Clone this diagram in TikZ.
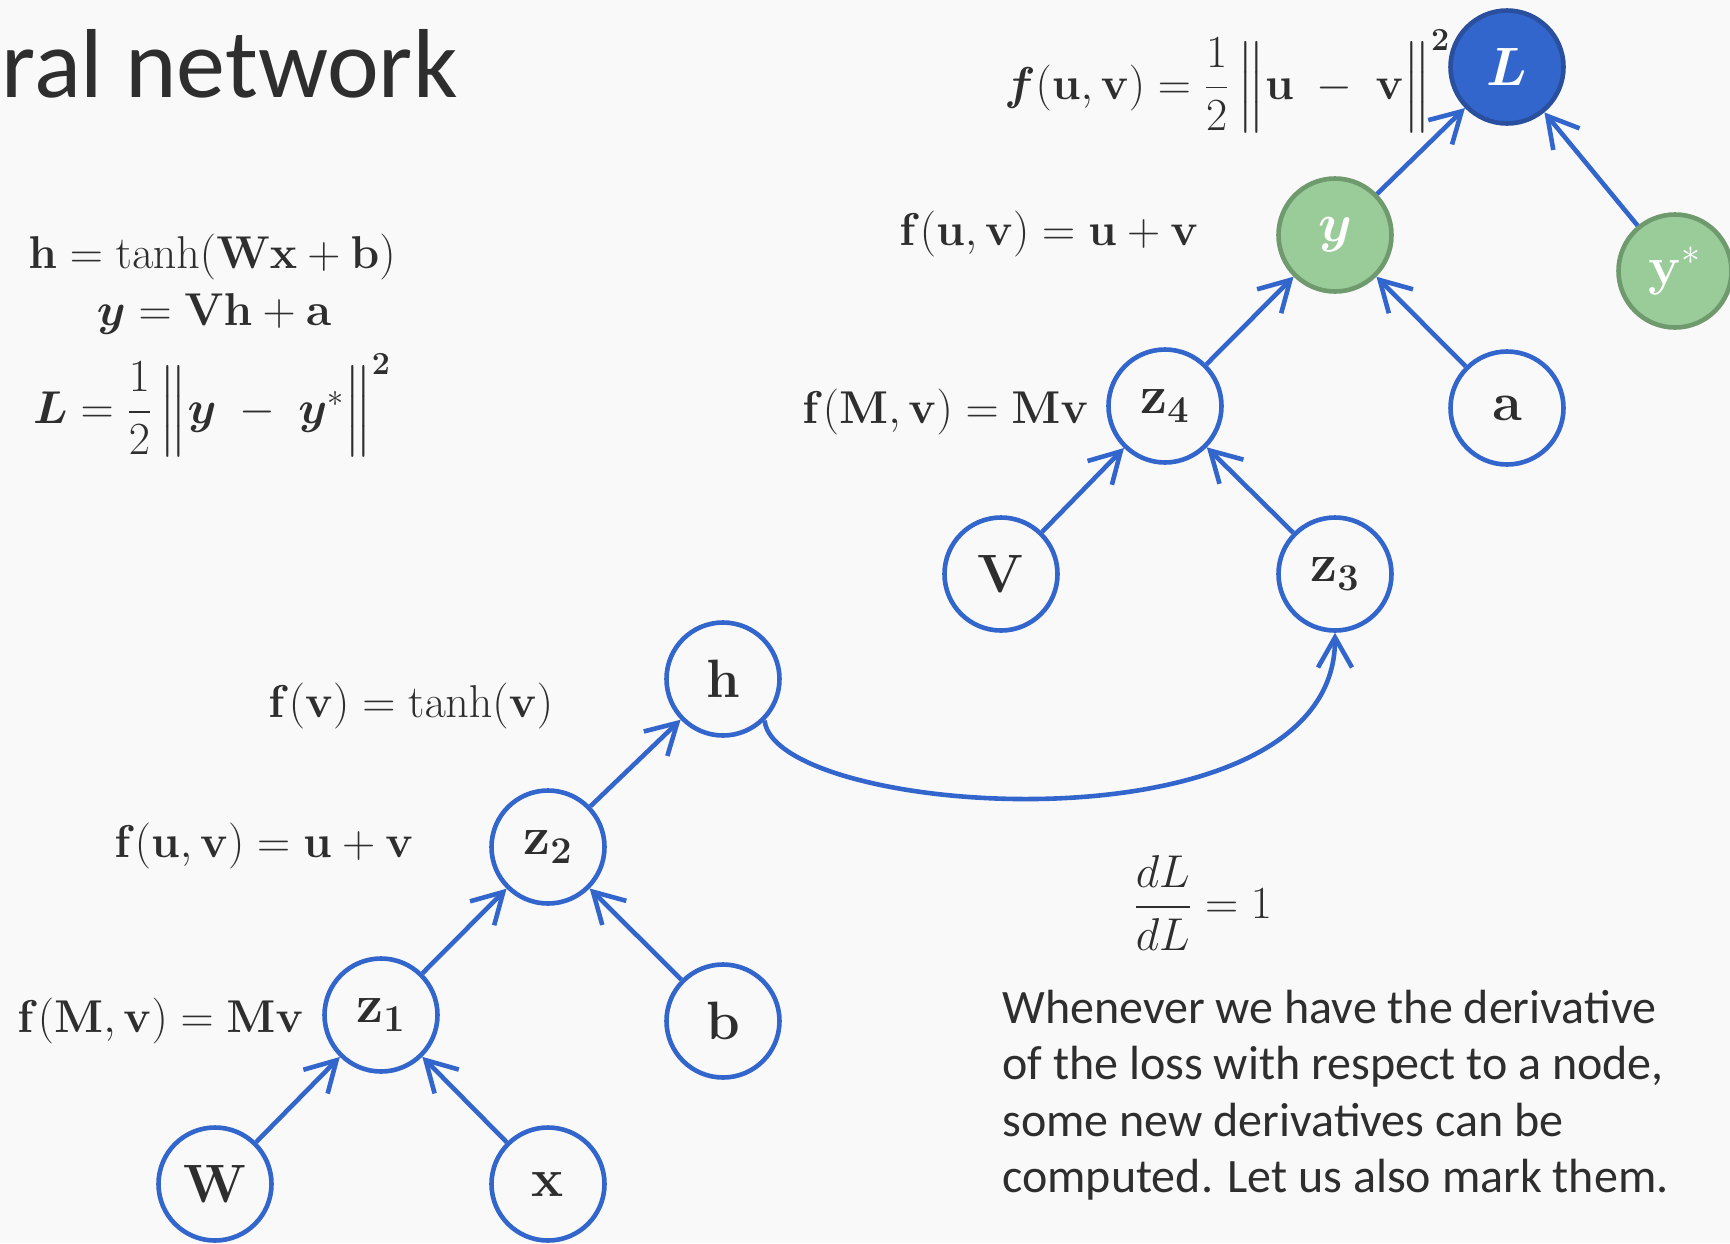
\RequirePackage{fix-cm}
\documentclass[tikz,border=0pt]{standalone}
\usepackage{amsmath,bm}
\usepackage[no-math]{fontspec}
\newfontfamily\calibrifont{Carlito}
\usetikzlibrary{arrows.meta}
\definecolor{bg}{HTML}{F9F9F9}
\definecolor{ink}{HTML}{2E2E2E}
\definecolor{edgeblue}{HTML}{3366CC}
\definecolor{lfill}{HTML}{3366CC}
\definecolor{ldraw}{HTML}{2A4F9E}
\definecolor{gfill}{HTML}{99CC99}
\definecolor{gdraw}{HTML}{6E9A6E}
\begin{document}
\begin{tikzpicture}[x=0.5pt,y=-0.5pt,
  vnode/.style={circle, draw=edgeblue, line width=2.3pt, minimum size=56.5pt, inner sep=0pt, text=ink, font=\fontsize{27}{32}\selectfont},
  lossnode/.style={vnode, fill=lfill, draw=ldraw, text=white},
  greennode/.style={vnode, fill=gfill, draw=gdraw, text=white},
  edge/.style={draw=edgeblue, line width=2.3pt, -{Straight Barb[length=15pt,width=17pt]}},
  lbl/.style={text=ink, inner sep=0pt, font=\fontsize{23}{28}\selectfont},
  para/.style={text=ink, inner sep=0pt, anchor=base west, font=\calibrifont\fontsize{24}{29}\selectfont}
]
\fill[bg] (0,0) rectangle (1730,1243);
\useasboundingbox (0,0) rectangle (1730,1243);

% title
\node[anchor=base east, inner sep=0pt, text=ink, font=\calibrifont\fontsize{49}{58}\selectfont] (title) at (458,97) {ral network};

% left equations
\node[lbl, anchor=base] (e1) at (212,268) {$\mathbf{h} = \tanh(\mathbf{Wx}+\mathbf{b})$};
\node[lbl, anchor=base] (e2) at (214,325) {$\boldsymbol{y} = \mathbf{Vh}+\mathbf{a}$};
\node[lbl, anchor=base] (e3) at (212,423) {$\boldsymbol{L} = \dfrac{1}{2}\left\|\vphantom{\dfrac12}\boldsymbol{y} \;-\; \boldsymbol{y}^{*}\right\|^{\mathbf{2}}$};

% nodes
\node[lossnode] (L) at (1507,67) {$\boldsymbol{L}$};
\node[greennode] (y) at (1335,235) {$\boldsymbol{y}$};
\node[greennode] (ys) at (1675,271) {$\mathbf{y}^{*}$};
\node[vnode] (z4) at (1165,406) {$\mathbf{z}_{\mathbf{4}}$};
\node[vnode] (a) at (1507,408) {$\mathbf{a}$};
\node[vnode] (V) at (1001,574) {$\mathbf{V}$};
\node[vnode] (z3) at (1335,574) {$\mathbf{z}_{\mathbf{3}}$};
\node[vnode] (h) at (723,679) {$\mathbf{h}$};
\node[vnode] (z2) at (548,847) {$\mathbf{z}_{\mathbf{2}}$};
\node[vnode] (b) at (723,1021) {$\mathbf{b}$};
\node[vnode] (z1) at (381,1015) {$\mathbf{z}_{\mathbf{1}}$};
\node[vnode] (W) at (215,1184) {$\mathbf{W}$};
\node[vnode] (x) at (548,1184) {$\mathbf{x}$};

% function labels
\node[lbl, anchor=base west] (fL) at (1004,99) {$\boldsymbol{f}(\mathbf{u},\mathbf{v}) = \dfrac{1}{2}\left\|\vphantom{\dfrac12}\mathbf{u} \;-\; \mathbf{v}\right\|^{\mathbf{2}}$};
\node[lbl, anchor=base west] (fy) at (899,245) {$\mathbf{f}(\mathbf{u},\mathbf{v}) = \mathbf{u}+\mathbf{v}$};
\node[lbl, anchor=base west] (fz4) at (802,423) {$\mathbf{f}(\mathbf{M},\mathbf{v}) = \mathbf{Mv}$};
\node[lbl, anchor=base west] (fh) at (268,717) {$\mathbf{f}(\mathbf{v}) = \tanh(\mathbf{v})$};
\node[lbl, anchor=base west] (fz2) at (114,857) {$\mathbf{f}(\mathbf{u},\mathbf{v}) = \mathbf{u}+\mathbf{v}$};
\node[lbl, anchor=base west] (fz1) at (17,1032) {$\mathbf{f}(\mathbf{M},\mathbf{v}) = \mathbf{Mv}$};

% derivative
\node[lbl, anchor=west] (d) at (1133,903) {$\dfrac{dL}{dL} = 1$};

% paragraph
\node[para] (p1) at (1002,1023) {Whenever we have the derivative};
\node[para] (p2) at (1002,1079) {of the loss with respect to a node,};
\node[para] (p3) at (1002,1136) {some new derivatives can be};
\node[para] (p4) at (1002,1192) {computed. Let us also mark them.};

% edges
\draw[edge] (y) -- (L);
\draw[edge] (ys) -- (L);
\draw[edge] (z4) -- (y);
\draw[edge] (a) -- (y);
\draw[edge] (V) -- (z4);
\draw[edge] (z3) -- (z4);
\draw[edge] (h.-45) .. controls (775,818) and (1335,858) .. (z3.south);
\draw[edge] (z2) -- (h);
\draw[edge] (z1) -- (z2);
\draw[edge] (b) -- (z2);
\draw[edge] (W) -- (z1);
\draw[edge] (x) -- (z1);
\end{tikzpicture}
\end{document}
